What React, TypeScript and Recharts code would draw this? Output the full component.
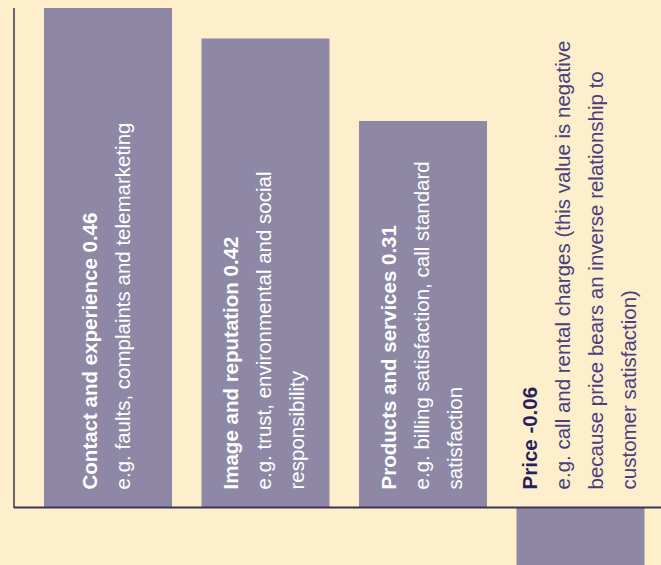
import React from "react";
import { BarChart, Bar, XAxis, YAxis, ReferenceLine, LabelList } from "recharts";

const categories = ["Contact and experience", "Image and reputation", "Products and services", "Price"];
const coefficientLabels = ["0.46", "0.42", "0.31", "-0.06"];
// bar lengths as drawn in the picture (not strictly proportional to the coefficients)
const barLengths = [0.46, 0.432, 0.356, -0.06];
const descriptions: string[][] = [
  ["e.g. faults, complaints and telemarketing"],
  ["e.g. trust, environmental and social", "responsibility"],
  ["e.g. billing satisfaction, call standard", "satisfaction"],
  [
    "e.g. call and rental charges (this value is negative",
    "because price bears an inverse relationship to",
    "customer satisfaction)",
  ],
];

const data = categories.map((name, i) => ({
  name,
  value: barLengths[i],
  label: coefficientLabels[i],
  desc: descriptions[i],
}));

const BG = "#fdefcb";
const BAR = "#8e88a6";
const AXIS = "#3b3457";
const FONT = "'Liberation Sans', Arial, sans-serif";

const BarText = (props: any) => {
  const { x, y, width, height, index } = props;
  const d = data[index];
  if (!d) return null;
  const positive = d.value >= 0;
  const zeroY = positive ? Math.max(y, y + height) : Math.min(y, y + height);
  const cx = x + width / 2;
  const lines = [d.name + "  " + d.label, ...d.desc];
  const n = lines.length;
  const spacing = 33;
  const first = cx - ((n - 1) * spacing) / 2 + 6;
  const sy = zeroY - 18;
  const titleColor = positive ? "#ffffff" : "#2a1f5e";
  const bodyColor = positive ? "#ffffff" : "#4a4080";
  return (
    <g>
      {lines.map((t, i) => {
        const bx = first + i * spacing;
        return (
          <text
            key={i}
            x={bx}
            y={sy}
            transform={`rotate(-90 ${bx} ${sy})`}
            textAnchor="start"
            fontFamily={FONT}
            fontSize={20.5}
            fontWeight={i === 0 ? "bold" : "normal"}
            fill={i === 0 ? titleColor : bodyColor}
          >
            {t}
          </text>
        );
      })}
    </g>
  );
};

export default function App() {
  return (
    <div style={{ position: "absolute", left: 0, top: 0, width: 661, height: 565, background: BG }}>
      <BarChart
        width={661}
        height={565}
        data={data}
        margin={{ top: 8, right: 0, bottom: 0, left: 0 }}
      >
        <XAxis dataKey="name" hide padding={{ left: 15, right: 2 }} />
        <YAxis
          width={14}
          domain={[-0.053, 0.46]}
          allowDataOverflow
          tick={false}
          tickLine={false}
          axisLine={{ stroke: AXIS, strokeWidth: 1.5, strokeDasharray: "500 1000" }}
        />
        <Bar dataKey="value" fill={BAR} barSize={128} isAnimationActive={false}>
          <LabelList dataKey="value" content={BarText} />
        </Bar>
        <ReferenceLine y={0} stroke={AXIS} strokeWidth={2} />
      </BarChart>
    </div>
  );
}
